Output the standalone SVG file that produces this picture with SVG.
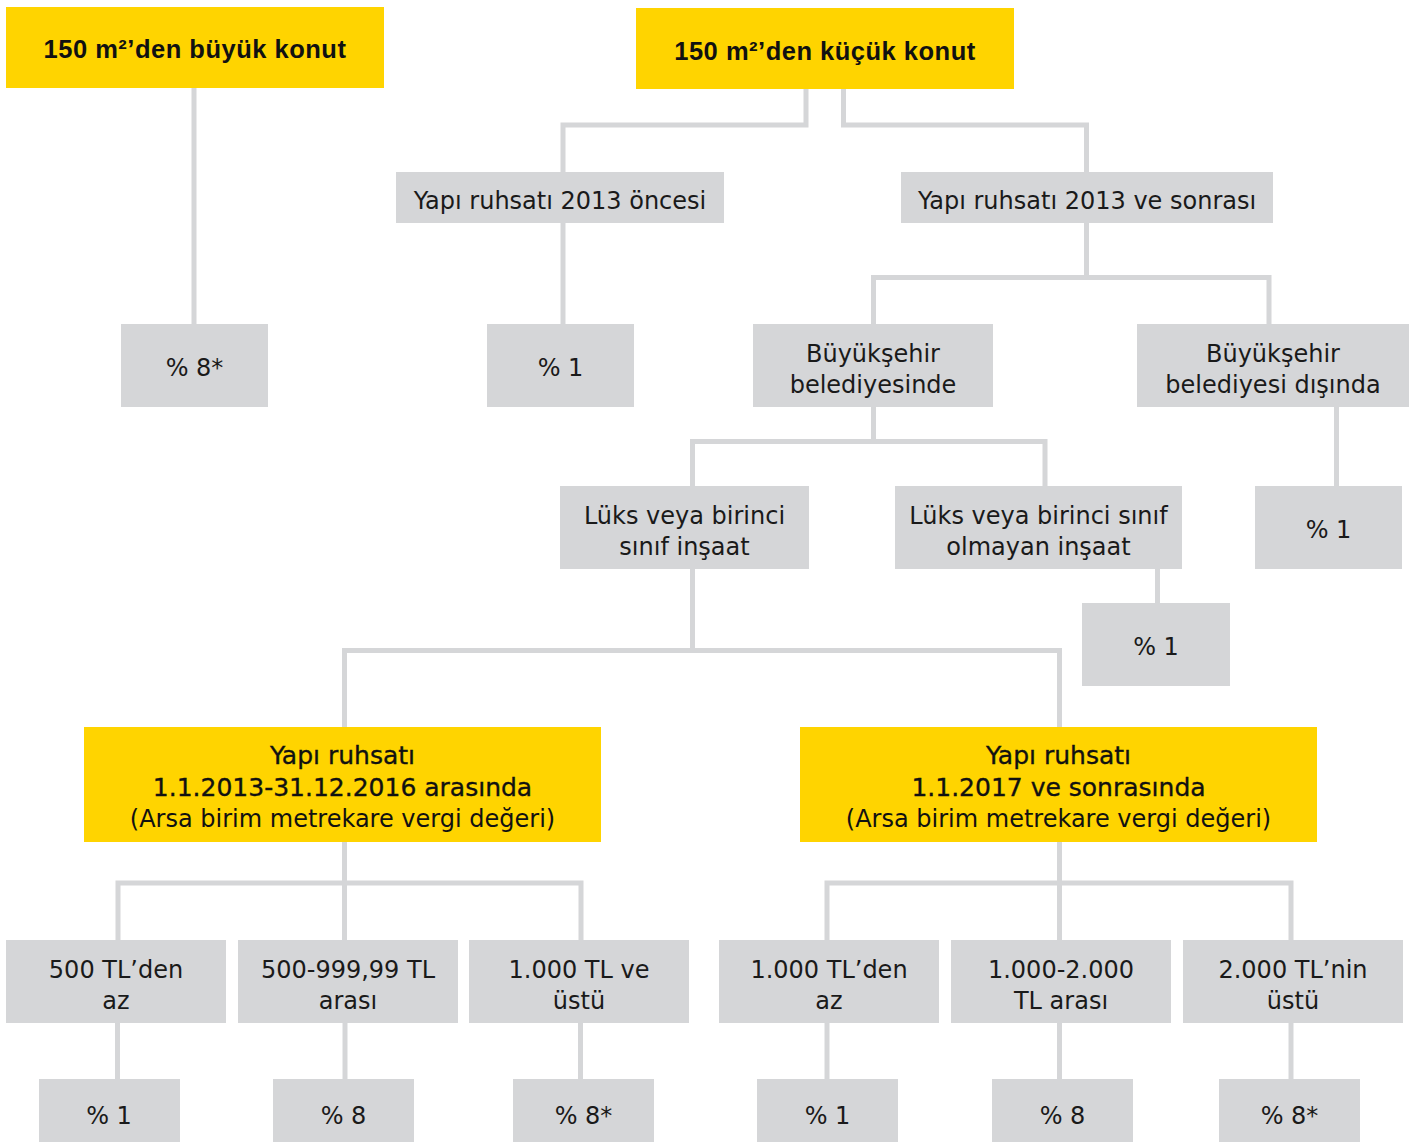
<svg xmlns="http://www.w3.org/2000/svg" width="1416" height="1142" viewBox="0 0 1416 1142">
<style>
.bg{fill:#ffffff}
.y{fill:#FFD400}
.g{fill:#D5D6D8}
.c{fill:none;stroke:#D5D6D8;stroke-width:5;stroke-linejoin:miter;stroke-linecap:butt}
.t{font-family:"DejaVu Sans","Liberation Sans",sans-serif;font-size:24px;fill:#1a1a1a;text-anchor:middle}
.tm{font-family:"DejaVu Sans","Liberation Sans",sans-serif;font-size:25px;fill:#111;text-anchor:middle;stroke:#111;stroke-width:0.35}
.tb{font-family:"Liberation Sans","DejaVu Sans",sans-serif;font-size:25.5px;font-weight:bold;fill:#111;text-anchor:middle;letter-spacing:0.5px}
</style>
<rect class="bg" x="0" y="0" width="1416" height="1142"/>
<g id="connectors">
<path class="c" d="M194 88V324"/>
<path class="c" d="M806 89V125H563V172"/>
<path class="c" d="M843.5 89V125H1086.5V172"/>
<path class="c" d="M563 223V324"/>
<path class="c" d="M1086.5 223V277.5"/>
<path class="c" d="M873.5 324V277.5H1269V324"/>
<path class="c" d="M873.5 407V441.5"/>
<path class="c" d="M692.5 486V441.5H1045V486"/>
<path class="c" d="M1336.5 407V486"/>
<path class="c" d="M692.5 569V650.5"/>
<path class="c" d="M344.5 727V650.5H1059.5V727"/>
<path class="c" d="M1157.5 569V603"/>
<path class="c" d="M344.5 842V940"/>
<path class="c" d="M118 940V883H581V940"/>
<path class="c" d="M1059.5 842V940"/>
<path class="c" d="M827 940V883H1291V940"/>
<path class="c" d="M117.5 1023V1079"/>
<path class="c" d="M345 1023V1079"/>
<path class="c" d="M580.5 1023V1079"/>
<path class="c" d="M827 1023V1079"/>
<path class="c" d="M1059.5 1023V1079"/>
<path class="c" d="M1291 1023V1079"/>
</g>
<g id="n-buyuk"><rect class="y" x="6" y="7" width="378" height="81"/><text class="tb" x="195" y="57.5">150 m²’den büyük konut</text></g>
<g id="n-kucuk"><rect class="y" x="636" y="8" width="378" height="81"/><text class="tb" x="825" y="60">150 m²’den küçük konut</text></g>
<g id="n-buyuk-oran"><rect class="g" x="121" y="324" width="147" height="83"/><text class="t" x="194.5" y="376">% 8*</text></g>
<g id="n-once"><rect class="g" x="396" y="172" width="328" height="51"/><text class="t" x="560" y="208.5">Yapı ruhsatı 2013 öncesi</text></g>
<g id="n-sonra"><rect class="g" x="901" y="172" width="372" height="51"/><text class="t" x="1087" y="208.5">Yapı ruhsatı 2013 ve sonrası</text></g>
<g id="n-once-oran"><rect class="g" x="487" y="324" width="147" height="83"/><text class="t" x="560.5" y="376">% 1</text></g>
<g id="n-bsb-ic"><rect class="g" x="753" y="324" width="240" height="83"/><text class="t" x="873" y="361.5">Büyükşehir</text><text class="t" x="873" y="393">belediyesinde</text></g>
<g id="n-bsb-dis"><rect class="g" x="1137" y="324" width="272" height="83"/><text class="t" x="1273" y="361.5">Büyükşehir</text><text class="t" x="1273" y="393">belediyesi dışında</text></g>
<g id="n-bsb-dis-oran"><rect class="g" x="1255" y="486" width="147" height="83"/><text class="t" x="1328.5" y="538">% 1</text></g>
<g id="n-luks"><rect class="g" x="560" y="486" width="249" height="83"/><text class="t" x="684.5" y="523.5">Lüks veya birinci</text><text class="t" x="684.5" y="555">sınıf inşaat</text></g>
<g id="n-luks-degil"><rect class="g" x="895" y="486" width="287" height="83"/><text class="t" x="1038.5" y="523.5">Lüks veya birinci sınıf</text><text class="t" x="1038.5" y="555">olmayan inşaat</text></g>
<g id="n-luks-degil-oran"><rect class="g" x="1082" y="603" width="148" height="83"/><text class="t" x="1156" y="655">% 1</text></g>
<g id="n-2013-2016"><rect class="y" x="84" y="727" width="517" height="115"/><text class="tm" x="342.5" y="763.5">Yapı ruhsatı</text><text class="tm" x="342.5" y="795.5">1.1.2013-31.12.2016 arasında</text><text class="t" x="342.5" y="826.5" style="fill:#111">(Arsa birim metrekare vergi değeri)</text></g>
<g id="n-2017"><rect class="y" x="800" y="727" width="517" height="115"/><text class="tm" x="1058.5" y="763.5">Yapı ruhsatı</text><text class="tm" x="1058.5" y="795.5">1.1.2017 ve sonrasında</text><text class="t" x="1058.5" y="826.5" style="fill:#111">(Arsa birim metrekare vergi değeri)</text></g>
<g id="n-a1"><rect class="g" x="6" y="940" width="220" height="83"/><text class="t" x="116" y="977.5">500 TL’den</text><text class="t" x="116" y="1008.5">az</text></g>
<g id="n-a2"><rect class="g" x="238" y="940" width="220" height="83"/><text class="t" x="348" y="977.5">500-999,99 TL</text><text class="t" x="348" y="1008.5">arası</text></g>
<g id="n-a3"><rect class="g" x="469" y="940" width="220" height="83"/><text class="t" x="579" y="977.5">1.000 TL ve</text><text class="t" x="579" y="1008.5">üstü</text></g>
<g id="n-b1"><rect class="g" x="719" y="940" width="220" height="83"/><text class="t" x="829" y="977.5">1.000 TL’den</text><text class="t" x="829" y="1008.5">az</text></g>
<g id="n-b2"><rect class="g" x="951" y="940" width="220" height="83"/><text class="t" x="1061" y="977.5">1.000-2.000</text><text class="t" x="1061" y="1008.5">TL arası</text></g>
<g id="n-b3"><rect class="g" x="1183" y="940" width="220" height="83"/><text class="t" x="1293" y="977.5">2.000 TL’nin</text><text class="t" x="1293" y="1008.5">üstü</text></g>
<g id="n-a1-oran"><rect class="g" x="39" y="1079" width="141" height="70"/><text class="t" x="109" y="1124">% 1</text></g>
<g id="n-a2-oran"><rect class="g" x="273" y="1079" width="141" height="70"/><text class="t" x="343.5" y="1124">% 8</text></g>
<g id="n-a3-oran"><rect class="g" x="513" y="1079" width="141" height="70"/><text class="t" x="583.5" y="1124">% 8*</text></g>
<g id="n-b1-oran"><rect class="g" x="757" y="1079" width="141" height="70"/><text class="t" x="827.5" y="1124">% 1</text></g>
<g id="n-b2-oran"><rect class="g" x="992" y="1079" width="141" height="70"/><text class="t" x="1062.5" y="1124">% 8</text></g>
<g id="n-b3-oran"><rect class="g" x="1219" y="1079" width="141" height="70"/><text class="t" x="1289.5" y="1124">% 8*</text></g>
</svg>
